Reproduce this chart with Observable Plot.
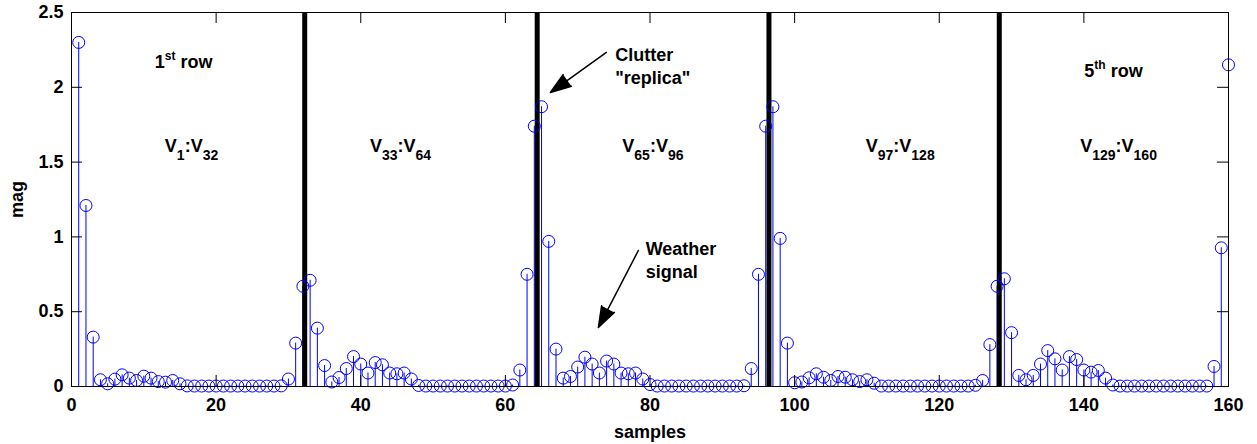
<!DOCTYPE html>
<html><head><meta charset="utf-8">
<script src="https://cdn.jsdelivr.net/npm/d3@7"></script>
<script src="https://cdn.jsdelivr.net/npm/@observablehq/plot@0.6"></script>
<style>body{margin:0;background:#fff}</style>
</head><body><div id="chart"></div>
<script>
// magnitudes per row (samples 1-32, 33-64, 65-96, 97-128, 129-160)
const row1 = [2.30,1.21,0.33,0.045,0.018,0.049,0.078,0.056,0.040,0.069,0.056,0.033,0.029,0.040,0.018,0.004,
  0.003,0.003,0.003,0.003,0.003,0.003,0.003,0.003,0.003,0.003,0.003,0.003,0.004,0.05,0.29,0.67];
const row2 = [0.71,0.39,0.14,0.03,0.06,0.12,0.20,0.15,0.09,0.16,0.145,0.09,0.085,0.09,0.05,0.007,
  0.003,0.003,0.003,0.003,0.003,0.003,0.003,0.003,0.003,0.003,0.003,0.003,0.01,0.11,0.75,1.74];
const row3 = [1.87,0.97,0.25,0.056,0.067,0.13,0.196,0.15,0.09,0.17,0.15,0.09,0.085,0.09,0.05,0.013,
  0.003,0.003,0.003,0.003,0.003,0.003,0.003,0.003,0.003,0.003,0.003,0.003,0.005,0.12,0.75,1.74];
const row4 = [1.87,0.99,0.29,0.025,0.03,0.058,0.085,0.062,0.04,0.067,0.062,0.045,0.033,0.045,0.022,0.003,
  0.003,0.003,0.003,0.003,0.003,0.003,0.003,0.003,0.003,0.003,0.003,0.003,0.008,0.04,0.28,0.67];
const row5 = [0.72,0.36,0.074,0.045,0.074,0.15,0.24,0.185,0.11,0.20,0.18,0.11,0.096,0.107,0.056,0.01,
  0.003,0.003,0.003,0.003,0.003,0.003,0.003,0.003,0.003,0.003,0.003,0.003,0.003,0.134,0.927,2.15];

const separators = [32.25, 64.4, 96.45, 128.3];
const xTicks = [0, 20, 40, 60, 80, 100, 120, 140, 160];
const yTicks = [0, 0.5, 1, 1.5, 2, 2.5];

// annotations (data coordinates)
const noteText   = ["1^{st} row", "5^{th} row", "V_{1}:V_{32}", "V_{33}:V_{64}", "V_{65}:V_{96}", "V_{97}:V_{128}", "V_{129}:V_{160}", "Clutter", "\"replica\"", "Weather", "signal"];
const noteX      = [15.5, 144.1, 16.6, 45.5, 80.4, 114.6, 144.8, 75.2, 75.2, 79.4, 79.4];
const noteY      = [2.126, 2.066, 1.565, 1.565, 1.565, 1.565, 1.565, 2.179, 2.025, 0.876, 0.722];
const noteAnchor = ["middle","middle","middle","middle","middle","middle","middle","start","start","start","start"];

const arrowX1 = [73.97, 78.39], arrowY1 = [2.233, 0.909];
const arrowX2 = [66.22, 72.86], arrowY2 = [1.965, 0.394];

const values = [...row1, ...row2, ...row3, ...row4, ...row5];
const data = values.map((v, i) => ({n: i + 1, v}));
const notes = noteText.map((t, i) => ({t, x: noteX[i], y: noteY[i], a: noteAnchor[i]}));
const arrows = arrowX1.map((x1, i) => ({x1, y1: arrowY1[i], x2: arrowX2[i], y2: arrowY2[i]}));

const W = 1257, H = 444, mL = 71, mR = 29, mT = 12, mB = 58;
const innerW = W - mL - mR, innerH = H - mT - mB;
const tickLen = 11;
const blue = "#0000ff";
const fmt = d => String(d);

const plot = Plot.plot({
  width: W, height: H,
  marginLeft: mL, marginRight: mR, marginTop: mT, marginBottom: mB,
  style: {fontFamily: "'Liberation Sans', Arial, sans-serif", fontSize: "18px", fontWeight: "bold", color: "black", background: "white"},
  x: {domain: [0, 160]},
  y: {domain: [0, 2.5]},
  marks: [
    Plot.ruleX(data, {x: "n", y1: 0, y2: "v", stroke: blue, strokeWidth: 1}),
    Plot.ruleX(separators, {stroke: "black", strokeWidth: 5}),
    Plot.dot(data, {x: "n", y: "v", r: 6, stroke: blue, fill: "none", strokeWidth: 1}),
    // inward tick marks
    Plot.ruleX(xTicks, {x: d => d, insetTop: innerH - tickLen, stroke: "black"}),
    Plot.ruleX(xTicks, {x: d => d, insetBottom: innerH - tickLen, stroke: "black"}),
    Plot.ruleY(yTicks, {y: d => d, insetRight: innerW - tickLen, stroke: "black"}),
    Plot.ruleY(yTicks, {y: d => d, insetLeft: innerW - tickLen, stroke: "black"}),
    Plot.frame({stroke: "black", strokeWidth: 1}),
    Plot.axisX(xTicks, {anchor: "bottom", tickSize: 0, tickPadding: 12, tickFormat: fmt, label: "samples", labelArrow: "none", labelAnchor: "center", labelOffset: 51}),
    Plot.axisY(yTicks, {anchor: "left", tickSize: 0, tickPadding: 8, tickFormat: fmt, label: "mag", labelArrow: "none", labelAnchor: "center", labelOffset: 61}),
    Plot.text(notes.filter(d => d.a === "middle"), {x: "x", y: "y", text: "t", textAnchor: "middle", lineAnchor: "bottom", fontSize: 18, fill: "black"}),
    Plot.text(notes.filter(d => d.a === "start"), {x: "x", y: "y", text: "t", textAnchor: "start", lineAnchor: "bottom", fontSize: 18, fill: "black"}),
    Plot.arrow(arrows, {x1: "x1", y1: "y1", x2: "x2", y2: "y2", stroke: "black", fill: "black", strokeWidth: 1.5, headLength: 22, headAngle: 38})
  ]
});

// sub/superscripts
d3.select(plot).selectAll("text").each(function() {
  const t = this.textContent;
  if (!/[_^]\{/.test(t)) return;
  const el = d3.select(this);
  el.text(null);
  const re = /([_^])\{([^}]*)\}|([^_^]+)/g;
  let m, shift = 0;
  while ((m = re.exec(t))) {
    if (m[3]) { el.append("tspan").attr("dy", -shift).text(m[3]); shift = 0; }
    else {
      const s = m[1] === "_" ? 8 : -8;
      el.append("tspan").attr("dy", s - shift).attr("font-size", m[1] === "_" ? 14 : 12).text(m[2]);
      shift = s;
    }
  }
});
document.getElementById("chart").appendChild(plot);
</script></body></html>
